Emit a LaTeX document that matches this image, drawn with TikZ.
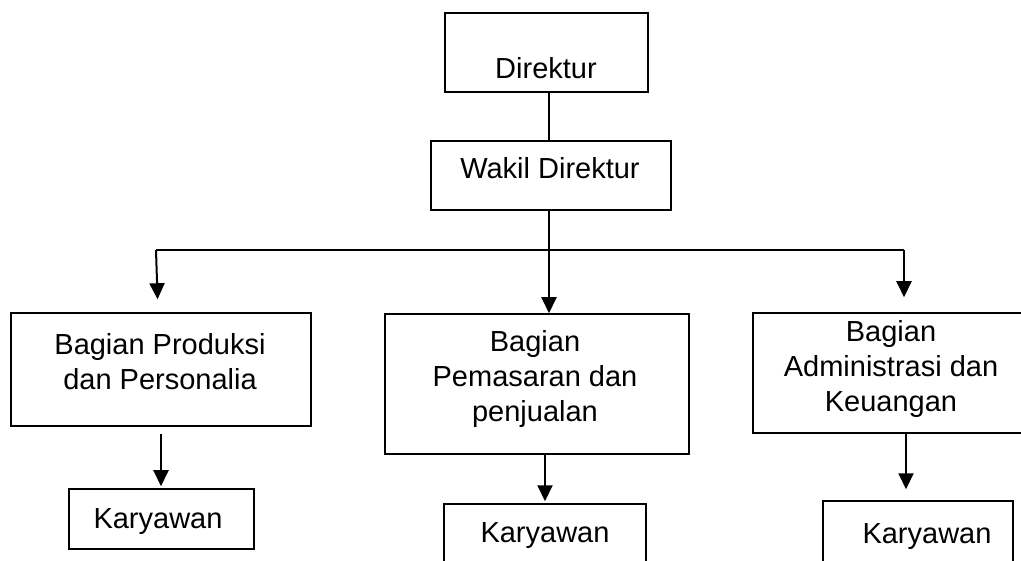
\documentclass[tikz,border=0pt]{standalone}
\usepackage{fontspec}
\setmainfont{Liberation Sans}
\usetikzlibrary{arrows.meta}
\tikzset{
  kotak/.style={draw, line width=1.5pt, inner sep=0pt},
  teks/.style={anchor=north, align=center, inner sep=0pt, font=\fontsize{29}{35}\selectfont},
  panah/.style={line width=2pt, -{Triangle[length=16pt,width=15pt]}},
  garis/.style={line width=1.5pt}
}

\begin{document}
\begin{tikzpicture}[x=1pt,y=-1pt]
\useasboundingbox (0,0) rectangle (1021,561);
\clip (0,0) rectangle (1021,561);
\node[kotak, minimum width=203pt, minimum height=79pt] (dir) at (546.5,52.5) {};
\node[teks] (dirT) at (546,57) {Direktur};
\node[kotak, minimum width=240pt, minimum height=69pt] (wakil) at (551,175.5) {};
\node[teks] (wakilT) at (550,157) {Wakil Direktur};
\node[kotak, minimum width=300pt, minimum height=113pt] (prod) at (161,369.5) {};
\node[teks] (prodT) at (160,333) {Bagian Produksi\\dan Personalia};
\node[kotak, minimum width=304pt, minimum height=140pt] (pem) at (537,384) {};
\node[teks] (pemT) at (535,330) {Bagian\\Pemasaran dan\\penjualan};
\node[kotak, minimum width=277pt, minimum height=120pt] (adm) at (891.5,373) {};
\node[teks] (admT) at (891,320) {Bagian\\Administrasi dan\\Keuangan};
\node[kotak, minimum width=185pt, minimum height=60pt] (kar1) at (161.5,519) {};
\node[teks] (kar1T) at (158,508) {Karyawan};
\node[kotak, minimum width=202pt, minimum height=71pt] (kar2) at (545,539.5) {};
\node[teks] (kar2T) at (545,522) {Karyawan};
\node[kotak, minimum width=190pt, minimum height=71pt] (kar3) at (918,536.5) {};
\node[teks] (kar3T) at (927,523) {Karyawan};
\coordinate (busL) at (156,250);
\coordinate (busR) at (904,250);
\coordinate (tengah) at (549,0);
\draw[line width=1.2pt] (dir.south -| tengah) -- (wakil.north -| tengah);
\draw[garis] (busL) -- (busR);
\draw[panah] (wakil.south -| tengah) -- (pem.north -| tengah);
\draw[panah, shorten >=13pt] (busL) -- ([xshift=2pt]busL |- prod.north);
\draw[panah, shorten >=15pt] (busR) -- (busR |- adm.north);
\draw[panah, shorten <=7pt, shorten >=2pt] (prod.south) -- (kar1.north -| prod.south);
\draw[panah, shorten >=2pt] (pem.south -| kar2.north) -- (kar2.north);
\draw[panah, shorten >=11pt] ([xshift=14.5pt]adm.south) -- ([xshift=14.5pt]adm.south |- kar3.north);
\end{tikzpicture}
\end{document}
